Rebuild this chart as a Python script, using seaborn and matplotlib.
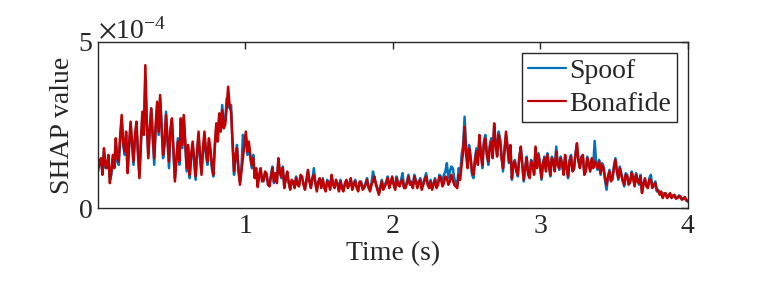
import numpy as np
import matplotlib
matplotlib.use("Agg")
import matplotlib.pyplot as plt
from matplotlib.ticker import ScalarFormatter
import seaborn as sns
import pandas as pd

# SHAP values, in units of 1e-4 (400 frames over 4 s)
bonafide = [
    1.1, 1.4, 1.5, 1.0, 1.8, 1.3, 1.2, 1.6, 0.75, 1.1,
    1.6, 1.2, 2.1, 1.5, 1.4, 2.2, 2.8, 2.0, 1.7, 2.3,
    1.05, 1.9, 2.6, 2.0, 1.4, 2.2, 2.6, 1.7, 0.9, 2.0,
    2.9, 2.2, 4.3, 2.6, 1.5, 2.4, 3.0, 2.2, 1.5, 2.5,
    3.2, 2.3, 3.4, 2.4, 1.6, 2.0, 2.8, 2.1, 1.4, 2.4,
    2.7, 1.8, 0.8, 1.5, 2.0, 1.4, 2.7, 1.9, 2.8, 2.0,
    1.2, 1.9, 1.0, 1.6, 2.0, 1.5, 0.95, 1.7, 2.3, 1.6,
    1.0, 1.8, 2.3, 1.7, 1.4, 2.1, 1.8, 1.3, 1.0, 1.9,
    2.55, 2.0, 2.85, 2.3, 2.95, 2.4, 2.5, 3.0, 3.65, 3.1,
    2.9, 2.0, 1.1, 1.6, 1.8, 1.2, 0.7, 1.1, 1.5, 1.9,
    2.3, 1.7, 2.0, 1.6, 1.3, 1.5, 0.9, 1.2, 0.63, 1.0,
    1.2, 0.8, 0.85, 1.1, 1.0, 0.7, 0.65, 0.95, 1.2, 0.8,
    1.05, 0.75, 1.5, 1.1, 0.95, 1.2, 0.6, 0.9, 1.1, 0.75,
    0.55, 0.85, 0.8, 0.6, 0.9, 0.7, 0.65, 1.0, 0.95, 0.7,
    0.55, 0.85, 1.15, 0.8, 0.6, 0.9, 1.0, 0.75, 0.5, 0.8,
    0.9, 0.6, 0.85, 0.65, 0.5, 0.8, 0.75, 0.55, 1.0, 0.7,
    0.6, 0.85, 0.7, 0.5, 0.8, 0.6, 0.5, 0.75, 0.85, 0.6,
    0.7, 0.9, 0.55, 0.7, 0.8, 0.6, 0.5, 0.8, 0.75, 0.55,
    0.6, 0.7, 0.85, 0.65, 0.5, 0.7, 0.8, 0.95, 0.7, 0.55,
    0.4, 0.6, 0.8, 0.55, 0.65, 0.75, 0.9, 0.6, 0.75, 0.95,
    0.7, 0.55, 0.9, 0.7, 0.65, 0.8, 0.85, 0.6, 0.6, 0.75,
    0.95, 0.7, 0.75, 0.6, 0.95, 0.8, 0.6, 0.75, 0.85, 0.55,
    0.7, 0.85, 0.95, 0.7, 0.6, 0.8, 0.55, 0.7, 0.85, 0.6,
    0.7, 0.95, 0.9, 0.65, 0.75, 0.95, 0.9, 0.7, 0.8, 1.0,
    0.85, 0.7, 0.65, 0.6, 1.0, 0.85, 1.3, 1.7, 2.45, 1.6,
    1.2, 1.8, 1.5, 1.1, 1.0, 1.4, 1.7, 1.3, 2.2, 1.6,
    1.3, 1.9, 2.1, 1.6, 1.4, 1.8, 2.0, 1.5, 2.55, 1.9,
    1.55, 2.2, 2.0, 1.5, 1.2, 1.7, 2.3, 1.8, 1.4, 1.9,
    0.9, 1.3, 1.4, 1.1, 1.0, 1.5, 1.85, 1.3, 0.85, 1.2,
    1.5, 1.0, 0.9, 1.4, 1.3, 1.0, 1.85, 1.2, 1.6, 1.3,
    0.9, 1.3, 1.5, 1.1, 1.6, 1.3, 1.0, 1.5, 1.4, 1.1,
    1.7, 1.3, 1.2, 1.5, 1.3, 1.0, 1.6, 1.2, 0.95, 1.4,
    1.55, 1.1, 1.2, 1.6, 1.95, 1.4, 1.2, 1.5, 1.6, 1.0,
    1.1, 1.5, 1.3, 1.1, 1.5, 1.2, 1.4, 1.3, 1.2, 1.4,
    1.05, 1.3, 1.2, 0.9, 0.7, 0.95, 1.1, 0.8, 0.9, 1.2,
    1.45, 1.1, 0.9, 1.2, 1.0, 0.8, 0.7, 1.0, 0.95, 0.7,
    0.8, 1.05, 0.9, 0.65, 1.0, 0.8, 0.75, 0.95, 0.45, 0.7,
    0.9, 0.65, 0.6, 0.85, 0.85, 0.6, 0.7, 0.75, 0.55, 0.5,
    0.4, 0.5, 0.3, 0.4, 0.45, 0.3, 0.35, 0.45, 0.3, 0.38,
    0.4, 0.28, 0.3, 0.36, 0.35, 0.25, 0.28, 0.33, 0.25, 0.2,
]
spoof = [
    1.3, 1.35, 1.4, 1.1, 1.7, 1.2, 1.3, 1.5, 0.85, 1.0,
    1.5, 1.3, 2.0, 1.4, 1.3, 2.1, 2.6, 1.9, 1.6, 2.2,
    1.1, 1.8, 2.5, 1.9, 1.3, 2.1, 2.5, 1.6, 1.0, 1.9,
    2.8, 2.3, 3.9, 2.5, 1.6, 2.3, 3.0, 2.1, 1.3, 2.4,
    3.1, 2.2, 3.3, 2.5, 1.5, 1.9, 2.9, 2.0, 1.2, 2.3,
    2.6, 1.7, 0.9, 1.4, 2.1, 1.3, 2.6, 1.8, 2.7, 1.9,
    1.1, 1.8, 0.9, 1.5, 1.9, 1.4, 0.85, 1.6, 2.2, 1.5,
    1.1, 1.7, 2.2, 1.6, 1.3, 2.0, 1.7, 1.2, 0.95, 1.8,
    2.4, 2.1, 2.8, 2.4, 3.1, 2.5, 2.6, 3.3, 3.3, 3.0,
    3.1, 1.9, 1.0, 1.5, 1.9, 1.1, 0.8, 1.2, 2.2, 2.0,
    2.2, 1.6, 1.9, 1.5, 1.2, 1.6, 0.95, 1.1, 0.7, 0.95,
    1.15, 0.85, 0.8, 1.05, 1.05, 0.75, 0.7, 1.0, 1.25, 0.75,
    1.0, 0.8, 1.45, 1.05, 0.9, 1.25, 0.65, 0.85, 1.05, 0.8,
    0.6, 0.8, 0.75, 0.65, 0.95, 0.75, 0.7, 0.95, 0.9, 0.75,
    0.6, 0.8, 1.1, 0.85, 0.65, 0.85, 1.2, 0.8, 0.55, 0.75,
    0.85, 0.65, 0.9, 0.6, 0.55, 0.85, 0.8, 0.6, 0.95, 0.75,
    0.65, 0.8, 0.75, 0.55, 0.85, 0.65, 0.55, 0.7, 0.8, 0.65,
    0.75, 0.85, 0.6, 0.75, 0.85, 0.65, 0.55, 0.75, 0.8, 0.6,
    0.65, 0.75, 0.9, 0.6, 0.55, 0.75, 1.1, 0.9, 0.75, 0.6,
    0.45, 0.65, 0.85, 0.6, 0.7, 0.8, 0.95, 0.65, 0.8, 0.9,
    0.75, 0.6, 0.95, 0.75, 0.7, 0.85, 1.05, 0.65, 0.65, 0.8,
    1.0, 0.75, 0.8, 0.65, 1.0, 0.85, 0.65, 0.8, 0.9, 0.6,
    0.75, 0.9, 1.05, 0.75, 0.65, 0.85, 0.6, 0.75, 0.9, 0.65,
    0.75, 1.0, 0.95, 0.7, 1.0, 1.1, 1.35, 0.9, 1.1, 1.25,
    1.2, 0.9, 0.75, 0.7, 1.2, 1.0, 1.6, 1.9, 2.75, 1.8,
    1.3, 1.9, 1.6, 1.0, 0.9, 1.5, 1.8, 1.4, 2.1, 1.7,
    1.2, 2.0, 2.2, 1.7, 1.3, 1.9, 2.1, 1.6, 2.45, 2.0,
    1.6, 2.3, 2.1, 1.6, 1.1, 1.8, 2.2, 1.9, 1.35, 1.8,
    0.85, 1.35, 1.45, 1.15, 0.95, 1.55, 1.8, 1.35, 0.8, 1.25,
    1.55, 1.05, 0.95, 1.45, 1.35, 1.05, 1.8, 1.25, 1.65, 1.35,
    0.85, 1.35, 1.55, 1.15, 1.65, 1.35, 0.95, 1.55, 1.45, 1.15,
    1.85, 1.35, 1.15, 1.55, 1.35, 1.05, 1.55, 1.25, 0.9, 1.45,
    1.6, 1.15, 1.15, 1.65, 1.9, 1.45, 1.25, 1.55, 1.55, 1.05,
    1.15, 1.55, 1.35, 1.15, 1.45, 1.25, 2.02, 1.35, 1.15, 1.45,
    1.0, 1.35, 1.25, 0.85, 0.55, 0.9, 1.15, 0.85, 0.85, 1.25,
    1.5, 1.15, 0.85, 1.25, 1.05, 0.85, 0.65, 1.05, 1.0, 0.75,
    0.75, 1.1, 0.95, 0.7, 1.05, 0.85, 0.7, 1.0, 0.5, 0.75,
    0.85, 0.7, 0.65, 0.9, 1.0, 0.65, 0.65, 0.8, 0.5, 0.55,
    0.45, 0.45, 0.35, 0.45, 0.4, 0.35, 0.4, 0.42, 0.35, 0.35,
    0.35, 0.3, 0.32, 0.38, 0.3, 0.27, 0.3, 0.3, 0.22, 0.2,
]
time = np.linspace(0, 4, len(bonafide))

df = pd.DataFrame({
    "Time": np.concatenate([time, time]),
    "SHAP": np.concatenate([np.array(spoof), np.array(bonafide)]) * 1e-4,
    "Class": ["Spoof"] * len(spoof) + ["Bonafide"] * len(bonafide),
})

sns.set_style("white")
plt.rcParams["font.family"] = ["Liberation Serif", "DejaVu Serif"]
plt.rcParams["mathtext.fontset"] = "stix"
plt.rcParams["font.size"] = 20

fig = plt.figure(figsize=(7.6, 2.85), dpi=100)
ax = fig.add_axes([0.129, 0.270, 0.776, 0.583])

sns.lineplot(data=df, x="Time", y="SHAP", hue="Class",
             hue_order=["Spoof", "Bonafide"],
             palette={"Spoof": "#0072BD", "Bonafide": "#C00000"},
             estimator=None, linewidth=1.8, ax=ax)

ax.set_xlim(0, 4)
ax.set_ylim(0, 5e-4)
ax.set_xticks([1, 2, 3, 4])
ax.set_yticks([0, 5e-4])
fmt = ScalarFormatter(useMathText=True)
fmt.set_powerlimits((0, 0))
ax.yaxis.set_major_formatter(fmt)
ax.yaxis.get_offset_text().set_fontsize(20)

ax.set_xlabel("Time (s)", fontsize=20, labelpad=2)
ax.set_ylabel("SHAP value", fontsize=20, labelpad=2)
ax.tick_params(direction="in", top=True, right=True, length=5, width=1,
               colors="#262626", labelsize=20, pad=4)
for s in ax.spines.values():
    s.set_color("#262626")
    s.set_linewidth(1.0)

leg = ax.legend(loc="upper right", fontsize=20, frameon=True, fancybox=False,
                edgecolor="#262626", framealpha=1, handlelength=1.4,
                handletextpad=0.1, labelspacing=0.26, borderpad=0.2,
                borderaxespad=0.4)
leg.get_frame().set_linewidth(1.0)
for h in leg.get_lines():
    h.set_linewidth(1.6)

fig.savefig("out.png", dpi=100)
